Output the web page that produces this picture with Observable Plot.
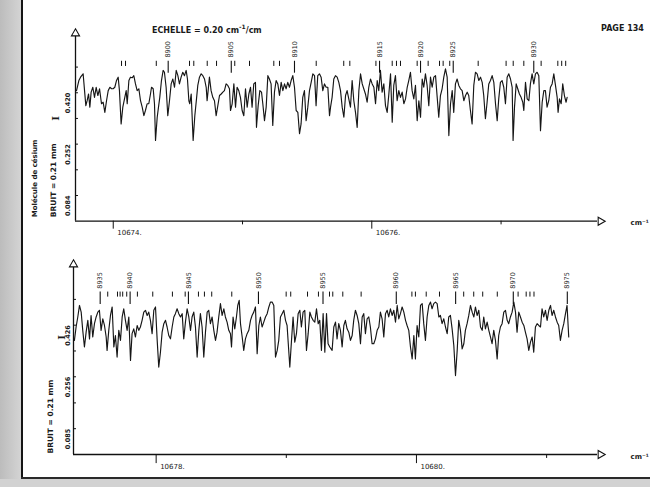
<!DOCTYPE html>
<html><head><meta charset="utf-8">
<script src="https://cdn.jsdelivr.net/npm/d3@7"></script>
<script src="https://cdn.jsdelivr.net/npm/@observablehq/plot@0.6"></script>
<style>
body{margin:0;background:#fff;width:650px;height:487px;overflow:hidden;position:relative;font-family:"DejaVu Sans",sans-serif;color:#1a1a1a;}
#edge{position:absolute;left:0;top:0;width:21px;height:487px;background:linear-gradient(90deg,#bcbcbc,#d4d4d4);}
#edgeline{position:absolute;left:21px;top:0;width:2px;height:479px;background:#151515;}
#bottomline{position:absolute;left:21px;top:477px;width:629px;height:2px;background:#2a2a2a;}
#bottomband{position:absolute;left:0;top:479px;width:650px;height:8px;background:#d2d2d2;}
#title{position:absolute;left:152px;top:23px;font-weight:bold;font-size:8px;white-space:nowrap;}
#title sup{font-size:6px;}
#page{position:absolute;left:601px;top:24px;font-weight:bold;font-size:8px;white-space:nowrap;}
#top{position:absolute;left:0;top:0;}
#bottom{position:absolute;left:0;top:245px;}
</style></head>
<body>
<div id="edge"></div><div id="edgeline"></div><div id="bottomband"></div><div id="bottomline"></div>
<div id="title">ECHELLE = 0.20 cm<sup>-1</sup>/cm</div>
<div id="page">PAGE 134</div>
<div id="top"></div><div id="bottom"></div>
<script>
// ---------- DATA ----------
const topSpectrum = [[10673.716,.427],[10673.734,.460],[10673.747,.471],[10673.767,.482],[10673.778,.427],[10673.788,.378],[10673.798,.394],[10673.809,.416],[10673.819,.373],[10673.829,.422],[10673.842,.438],[10673.855,.405],[10673.868,.438],[10673.881,.411],[10673.894,.433],[10673.909,.384],[10673.922,.389],[10673.935,.356],[10673.948,.394],[10673.961,.427],[10673.974,.438],[10673.987,.433],[10673.999,.433],[10674.012,.438],[10674.025,.460],[10674.038,.471],[10674.048,.427],[10674.061,.318],[10674.074,.373],[10674.087,.400],[10674.100,.427],[10674.108,.384],[10674.121,.460],[10674.133,.471],[10674.146,.469],[10674.159,.476],[10674.172,.449],[10674.185,.427],[10674.198,.433],[10674.211,.394],[10674.224,.373],[10674.237,.345],[10674.249,.362],[10674.262,.384],[10674.275,.384],[10674.288,.416],[10674.296,.438],[10674.309,.433],[10674.319,.384],[10674.327,.264],[10674.340,.340],[10674.350,.373],[10674.360,.405],[10674.373,.460],[10674.386,.493],[10674.396,.487],[10674.409,.438],[10674.422,.345],[10674.435,.394],[10674.448,.449],[10674.461,.465],[10674.474,.438],[10674.487,.493],[10674.500,.476],[10674.512,.449],[10674.525,.471],[10674.538,.487],[10674.551,.476],[10674.564,.493],[10674.574,.465],[10674.585,.394],[10674.592,.384],[10674.603,.416],[10674.618,.264],[10674.631,.345],[10674.644,.400],[10674.654,.444],[10674.667,.471],[10674.680,.482],[10674.693,.476],[10674.706,.465],[10674.719,.438],[10674.726,.394],[10674.734,.427],[10674.744,.471],[10674.757,.427],[10674.770,.405],[10674.783,.394],[10674.796,.345],[10674.809,.378],[10674.822,.411],[10674.835,.416],[10674.848,.422],[10674.860,.427],[10674.873,.449],[10674.886,.444],[10674.899,.433],[10674.907,.362],[10674.920,.384],[10674.933,.449],[10674.946,.373],[10674.958,.438],[10674.971,.427],[10674.984,.405],[10674.997,.362],[10675.010,.345],[10675.023,.433],[10675.036,.373],[10675.049,.416],[10675.062,.438],[10675.074,.373],[10675.087,.449],[10675.100,.454],[10675.108,.307],[10675.121,.378],[10675.134,.427],[10675.147,.422],[10675.157,.384],[10675.170,.329],[10675.183,.373],[10675.196,.476],[10675.208,.465],[10675.221,.449],[10675.234,.313],[10675.247,.422],[10675.260,.460],[10675.273,.449],[10675.286,.411],[10675.299,.454],[10675.312,.427],[10675.325,.449],[10675.337,.433],[10675.350,.454],[10675.363,.438],[10675.376,.460],[10675.389,.476],[10675.402,.438],[10675.415,.362],[10675.428,.356],[10675.441,.286],[10675.453,.318],[10675.466,.405],[10675.479,.427],[10675.492,.329],[10675.505,.373],[10675.518,.427],[10675.531,.454],[10675.544,.482],[10675.557,.476],[10675.569,.378],[10675.582,.476],[10675.595,.482],[10675.608,.471],[10675.621,.427],[10675.634,.449],[10675.647,.438],[10675.660,.438],[10675.673,.345],
[10675.681,.373],[10675.693,.405],[10675.706,.465],[10675.719,.476],[10675.732,.471],[10675.745,.454],[10675.758,.427],[10675.771,.373],[10675.784,.340],[10675.797,.411],[10675.809,.427],[10675.822,.400],[10675.835,.373],[10675.848,.460],[10675.861,.394],[10675.874,.356],[10675.887,.307],[10675.900,.427],[10675.913,.482],[10675.926,.449],[10675.938,.433],[10675.951,.416],[10675.964,.389],[10675.977,.438],[10675.990,.465],[10676.003,.449],[10676.016,.438],[10676.029,.384],[10676.042,.460],[10676.054,.427],[10676.067,.493],[10676.080,.422],[10676.093,.449],[10676.106,.378],[10676.119,.356],[10676.132,.416],[10676.145,.482],[10676.158,.324],[10676.170,.444],[10676.183,.476],[10676.196,.394],[10676.209,.427],[10676.222,.405],[10676.235,.422],[10676.248,.384],[10676.261,.400],[10676.274,.438],[10676.286,.460],[10676.299,.487],[10676.312,.427],[10676.325,.400],[10676.338,.444],[10676.351,.329],[10676.364,.394],[10676.377,.340],[10676.390,.465],[10676.402,.438],[10676.415,.482],[10676.428,.444],[10676.441,.378],[10676.454,.471],[10676.467,.438],[10676.480,.471],[10676.493,.476],[10676.506,.405],[10676.518,.340],[10676.531,.411],[10676.544,.433],[10676.557,.471],[10676.570,.498],[10676.583,.471],[10676.596,.280],[10676.609,.384],[10676.622,.427],[10676.634,.356],[10676.647,.449],[10676.660,.465],[10676.673,.444],[10676.686,.433],[10676.699,.427],[10676.712,.394],[10676.725,.411],[10676.738,.422],[10676.750,.411],[10676.763,.362],[10676.776,.318],[10676.789,.444],[10676.802,.487],[10676.815,.482],[10676.828,.460],[10676.841,.471],[10676.854,.454],[10676.866,.411],[10676.879,.335],[10676.892,.389],[10676.905,.449],[10676.918,.460],[10676.931,.476],[10676.944,.454],[10676.957,.384],[10676.970,.329],[10676.982,.400],[10676.995,.454],[10677.008,.460],[10677.021,.438],[10677.034,.384],[10677.047,.471],[10677.060,.482],[10677.073,.465],[10677.086,.438],[10677.093,.264],[10677.104,.373],[10677.117,.449],[10677.129,.433],[10677.142,.416],[10677.155,.405],[10677.168,.389],[10677.176,.362],[10677.189,.454],[10677.202,.400],[10677.215,.394],[10677.227,.449],[10677.240,.482],[10677.253,.449],[10677.266,.482],[10677.279,.487],[10677.292,.476],[10677.305,.296],[10677.318,.389],[10677.331,.427],[10677.343,.427],[10677.356,.373],[10677.369,.394],[10677.382,.438],[10677.395,.449],[10677.408,.482],[10677.421,.444],[10677.434,.405],[10677.441,.356],[10677.452,.400],[10677.465,.384],[10677.477,.449],[10677.490,.411],[10677.503,.389],[10677.511,.405]];

const bottomSpectrum = [[10677.372,.376],[10677.385,.420],[10677.398,.453],[10677.411,.491],[10677.424,.469],[10677.436,.409],[10677.449,.354],[10677.462,.403],[10677.475,.442],[10677.488,.381],[10677.500,.458],[10677.513,.387],[10677.526,.431],[10677.539,.453],[10677.552,.469],[10677.564,.475],[10677.577,.409],[10677.590,.447],[10677.603,.425],[10677.616,.387],[10677.623,.343],[10677.636,.409],[10677.649,.458],[10677.662,.486],[10677.675,.354],[10677.687,.392],[10677.700,.321],[10677.713,.409],[10677.726,.376],[10677.739,.453],[10677.751,.480],[10677.764,.442],[10677.777,.409],[10677.790,.453],[10677.803,.310],[10677.815,.398],[10677.828,.414],[10677.841,.387],[10677.854,.425],[10677.867,.409],[10677.879,.420],[10677.892,.442],[10677.905,.469],[10677.918,.475],[10677.931,.458],[10677.943,.469],[10677.956,.442],[10677.969,.398],[10677.982,.475],[10677.995,.486],[10678.008,.376],[10678.020,.288],[10678.033,.337],[10678.046,.403],[10678.059,.431],[10678.072,.442],[10678.084,.420],[10678.097,.392],[10678.110,.381],[10678.123,.420],[10678.136,.453],[10678.148,.464],[10678.161,.480],[10678.174,.464],[10678.187,.453],[10678.200,.464],[10678.212,.381],[10678.225,.436],[10678.238,.480],[10678.251,.453],[10678.264,.409],[10678.276,.453],[10678.289,.469],[10678.302,.420],[10678.315,.321],[10678.328,.409],[10678.340,.464],[10678.353,.420],[10678.366,.321],[10678.379,.403],[10678.392,.469],[10678.404,.475],[10678.417,.431],[10678.430,.453],[10678.443,.409],[10678.456,.376],[10678.468,.403],[10678.481,.453],[10678.494,.497],[10678.507,.458],[10678.520,.480],[10678.532,.453],[10678.545,.436],[10678.558,.409],[10678.571,.398],[10678.579,.354],[10678.591,.453],[10678.604,.414],[10678.617,.453],[10678.627,.491],[10678.638,.508],[10678.648,.431],[10678.661,.387],[10678.673,.343],[10678.686,.381],[10678.699,.398],[10678.712,.409],[10678.725,.442],[10678.737,.458],[10678.750,.469],[10678.763,.486],[10678.776,.332],[10678.789,.425],[10678.801,.453],[10678.814,.420],[10678.827,.436],[10678.840,.453],[10678.853,.464],[10678.866,.486],[10678.878,.502],[10678.891,.502],[10678.904,.491],[10678.917,.321],[10678.930,.343],[10678.942,.376],[10678.955,.453],[10678.968,.464],[10678.981,.475],[10678.994,.442],[10679.006,.425],[10679.027,.288],[10679.040,.376],[10679.052,.453],[10679.065,.370],[10679.078,.398],[10679.091,.464],[10679.104,.475],[10679.116,.420],[10679.129,.469],[10679.142,.475],[10679.155,.343],[10679.168,.398],[10679.181,.469],[10679.193,.453],[10679.206,.442],[10679.219,.436],[10679.232,.480],[10679.245,.431],[10679.257,.442],[10679.270,.343],[10679.283,.464],[10679.296,.337],[10679.309,.464],[10679.321,.365],[10679.334,.354],
[10679.352,.343],[10679.365,.420],[10679.378,.436],[10679.390,.381],[10679.403,.431],[10679.416,.409],[10679.429,.354],[10679.442,.425],[10679.454,.442],[10679.467,.414],[10679.480,.403],[10679.493,.376],[10679.506,.392],[10679.518,.442],[10679.531,.475],[10679.544,.458],[10679.557,.431],[10679.570,.365],[10679.583,.453],[10679.595,.464],[10679.608,.398],[10679.621,.447],[10679.634,.453],[10679.646,.420],[10679.659,.365],[10679.672,.365],[10679.685,.381],[10679.698,.409],[10679.711,.420],[10679.723,.469],[10679.736,.447],[10679.749,.387],[10679.762,.464],[10679.775,.475],[10679.787,.453],[10679.800,.480],[10679.813,.458],[10679.826,.475],[10679.839,.436],[10679.852,.491],[10679.864,.447],[10679.877,.464],[10679.890,.486],[10679.903,.469],[10679.916,.442],[10679.928,.425],[10679.941,.409],[10679.954,.354],[10679.967,.315],[10679.980,.392],[10679.992,.315],[10680.005,.425],[10680.018,.387],[10680.031,.491],[10680.044,.497],[10680.056,.431],[10680.069,.376],[10680.082,.453],[10680.095,.491],[10680.108,.502],[10680.120,.480],[10680.133,.497],[10680.146,.502],[10680.159,.497],[10680.172,.453],[10680.184,.458],[10680.197,.431],[10680.210,.447],[10680.223,.420],[10680.236,.398],[10680.248,.453],[10680.261,.458],[10680.274,.414],[10680.287,.359],[10680.300,.260],[10680.313,.343],[10680.325,.442],[10680.338,.409],[10680.351,.348],[10680.364,.365],[10680.376,.409],[10680.389,.431],[10680.402,.458],[10680.415,.491],[10680.428,.469],[10680.441,.453],[10680.453,.486],[10680.466,.458],[10680.479,.475],[10680.492,.420],[10680.505,.409],[10680.517,.453],[10680.530,.414],[10680.543,.436],[10680.556,.409],[10680.569,.387],[10680.581,.365],[10680.594,.409],[10680.607,.376],[10680.620,.315],[10680.632,.392],[10680.645,.420],[10680.658,.431],[10680.671,.469],[10680.684,.475],[10680.697,.442],[10680.709,.431],[10680.722,.453],[10680.735,.469],[10680.748,.502],[10680.761,.469],[10680.773,.403],[10680.786,.469],[10680.799,.453],[10680.812,.436],[10680.825,.425],[10680.837,.403],[10680.850,.381],[10680.863,.343],[10680.876,.370],[10680.889,.387],[10680.901,.337],[10680.914,.420],[10680.927,.431],[10680.940,.425],[10680.953,.420],[10680.965,.480],[10680.978,.453],[10680.991,.475],[10681.004,.442],[10681.017,.475],[10681.030,.491],[10681.042,.458],[10681.055,.475],[10681.068,.453],[10681.081,.436],[10681.093,.425],[10681.106,.376],[10681.119,.409],[10681.132,.431],[10681.145,.464],[10681.157,.491],[10681.170,.387]];

// line positions (short marks) and numbered lines
const topLines = [10674.064,10674.095,10674.333,10674.590,10674.623,10674.727,10674.799,10674.940,10675.054,10675.242,10675.286,10675.570,10675.783,10675.830,10676.032,10676.158,10676.191,10676.222,10676.351,10676.436,10676.524,10676.552,10676.603,10676.823,10677.039,10677.094,10677.176,10677.310,10677.439,10677.469,10677.500];
const topNumbered = [10674.425,10674.913,10675.402,10676.060,10676.377,10676.630,10677.253];
const topNumbers = [8900,8905,8910,8915,8920,8925,8930];
const bottomLines = [10677.628,10677.703,10677.723,10677.743,10677.774,10677.856,10677.974,10678.125,10678.223,10678.325,10678.371,10678.427,10678.581,10678.999,10679.034,10679.163,10679.247,10679.332,10679.357,10679.434,10679.575,10679.965,10679.992,10680.075,10680.177,10680.363,10680.440,10680.509,10680.621,10680.781,10680.843,10680.872,10680.903];
const bottomNumbered = [10677.570,10677.800,10678.248,10678.786,10679.282,10679.845,10680.301,10680.744,10681.159];
const bottomNumbers = [8935,8940,8945,8950,8955,8960,8965,8970,8975];

// axis ticks
const topYTicks = [0.084,0.168,0.252,0.336,0.420,0.504];
const topYLabels = ["0.084","0.252","0.420"];
const bottomYTicks = [0.085,0.170,0.256,0.341,0.426,0.511];
const bottomYLabels = ["0.085","0.256","0.426"];
const topXTicks = [10674,10675,10676,10677];
const topXLabels = [10674,10676];
const bottomXTicks = [10678,10679,10680,10681];
const bottomXLabels = [10678,10680];

// ---------- DRAW ----------
const FONT = "DejaVu Sans";
function panel(c) {
  const [x0, x1] = c.xDomain;
  const labeled = new Set(c.xLabels);
  const marks = [
    // spectrum
    Plot.line(c.spectrum, {x: d => d[0], y: d => d[1], stroke: "#161616", strokeWidth: 1.15}),
    // axes
    Plot.ruleX([x0], {y1: 0, y2: c.yMax, stroke: "#111", strokeWidth: 1.3}),
    Plot.ruleY([0], {x1: x0, x2: x1, stroke: "#111", strokeWidth: 1.3}),
    Plot.dot([[x0, c.yMax]], {x: d => d[0], y: d => d[1], symbol: "triangle", r: 3, fill: "#fff", stroke: "#111", strokeWidth: 1.1, dy: -3}),
    Plot.dot([[x1, 0]], {x: d => d[0], y: d => d[1], symbol: "triangle", rotate: 90, r: 3, fill: "#fff", stroke: "#111", strokeWidth: 1.1, dx: 3}),
    // y ticks (inward) and labels
    Plot.ruleY(c.yTicks, {y: d => d, x1: x0, x2: x0 + c.yTickLen, stroke: "#111", strokeWidth: 1}),
    Plot.text(c.yLabels, {x: x0, y: d => +d, text: d => d, rotate: -90, textAnchor: "end", dx: c.yLabelDx, fontSize: 6.5, fontWeight: "bold", fontFamily: FONT, fill: "#1a1a1a"}),
    // x ticks and labels
    Plot.ruleX(c.xTicks, {x: d => d, y1: 0, y2: d => labeled.has(d) ? c.xTickLong : c.xTickShort, stroke: "#111", strokeWidth: 1}),
    Plot.text(c.xLabels, {x: d => d, y: 0, text: d => d + ".", textAnchor: "start", dx: 4, dy: 12, fontSize: 7, fontFamily: FONT, fill: "#1a1a1a"}),
    Plot.text(["cm⁻¹"], {x: x1, y: 0, text: d => d, textAnchor: "start", dx: 33, dy: 2, fontSize: 7, fontWeight: "bold", fontFamily: FONT, fill: "#1a1a1a"}),
    // line markers
    Plot.ruleX(c.lines, {x: d => d, y1: c.markTop, y2: c.markShort, stroke: "#111", strokeWidth: 1}),
    Plot.ruleX(c.numbered, {x: d => d, y1: c.markTop, y2: c.markLong, stroke: "#111", strokeWidth: 1.1}),
    Plot.text(c.numbered, {x: d => d, y: c.labelY, text: (d, i) => String(c.numbers[i]), rotate: -90, textAnchor: "start", fontSize: 6.5, fontFamily: FONT, fill: "#1a1a1a"}),
    // left annotations: intensity symbol (rotated I)
    Plot.text([{x: x0, y: c.symbolY, t: "I"}], {x: "x", y: "y", text: "t", rotate: -90, dx: c.symbolDx, fontSize: 10, fontWeight: "bold", fontFamily: "DejaVu Serif", fill: "#1a1a1a"}),
    Plot.text(["BRUIT = 0.21 mm"], {frameAnchor: "bottom-left", text: d => d, rotate: -90, textAnchor: "start", dx: c.bruitDx, dy: c.bruitDy, fontSize: 7.5, fontWeight: "bold", fontFamily: FONT, fill: "#1a1a1a"})
  ];
  if (c.molecule) marks.push(Plot.text([c.molecule], {frameAnchor: "bottom-left", text: d => d, rotate: -90, textAnchor: "start", dx: -38.5, dy: -4, fontSize: 7, fontWeight: "bold", fontFamily: FONT, fill: "#1a1a1a"}));
  return Plot.plot({
    width: 650, height: c.height,
    marginLeft: c.marginLeft, marginRight: 650 - c.marginLeft - c.plotWidth,
    marginTop: c.marginTop, marginBottom: c.marginBottom,
    x: {domain: c.xDomain, axis: null},
    y: {domain: [0, c.yMax], axis: null},
    style: {background: "transparent", overflow: "visible", fontFamily: FONT},
    marks
  });
}

document.getElementById("top").append(panel({
  spectrum: topSpectrum, lines: topLines, numbered: topNumbered, numbers: topNumbers,
  yTicks: topYTicks, yLabels: topYLabels, xTicks: topXTicks, xLabels: topXLabels,
  xDomain: [10673.708, 10677.746], yMax: 0.604,
  height: 245, marginLeft: 75, plotWidth: 522, marginTop: 36, marginBottom: 24.3,
  yTickLen: 0.023, yLabelDx: -8, xTickLong: -0.026, xTickShort: -0.012,
  markTop: 0.523, markShort: 0.506, markLong: 0.484, labelY: 0.535,
  symbolY: 0.336, symbolDx: -20, bruitDx: -20, bruitDy: -4,
  molecule: "Molécule de césium"
}));
document.getElementById("bottom").append(panel({
  spectrum: bottomSpectrum, lines: bottomLines, numbered: bottomNumbered, numbers: bottomNumbers,
  yTicks: bottomYTicks, yLabels: bottomYLabels, xTicks: bottomXTicks, xLabels: bottomXLabels,
  xDomain: [10677.365, 10681.391], yMax: 0.616,
  height: 242, marginLeft: 73, plotWidth: 524, marginTop: 22, marginBottom: 33,
  yTickLen: 0.023, yLabelDx: -6, xTickLong: -0.030, xTickShort: -0.013,
  markTop: 0.535, markShort: 0.5185, markLong: 0.494, labelY: 0.546,
  symbolY: 0.386, symbolDx: -12, bruitDx: -21, bruitDy: -1,
  molecule: null
}));
</script>
</body></html>
